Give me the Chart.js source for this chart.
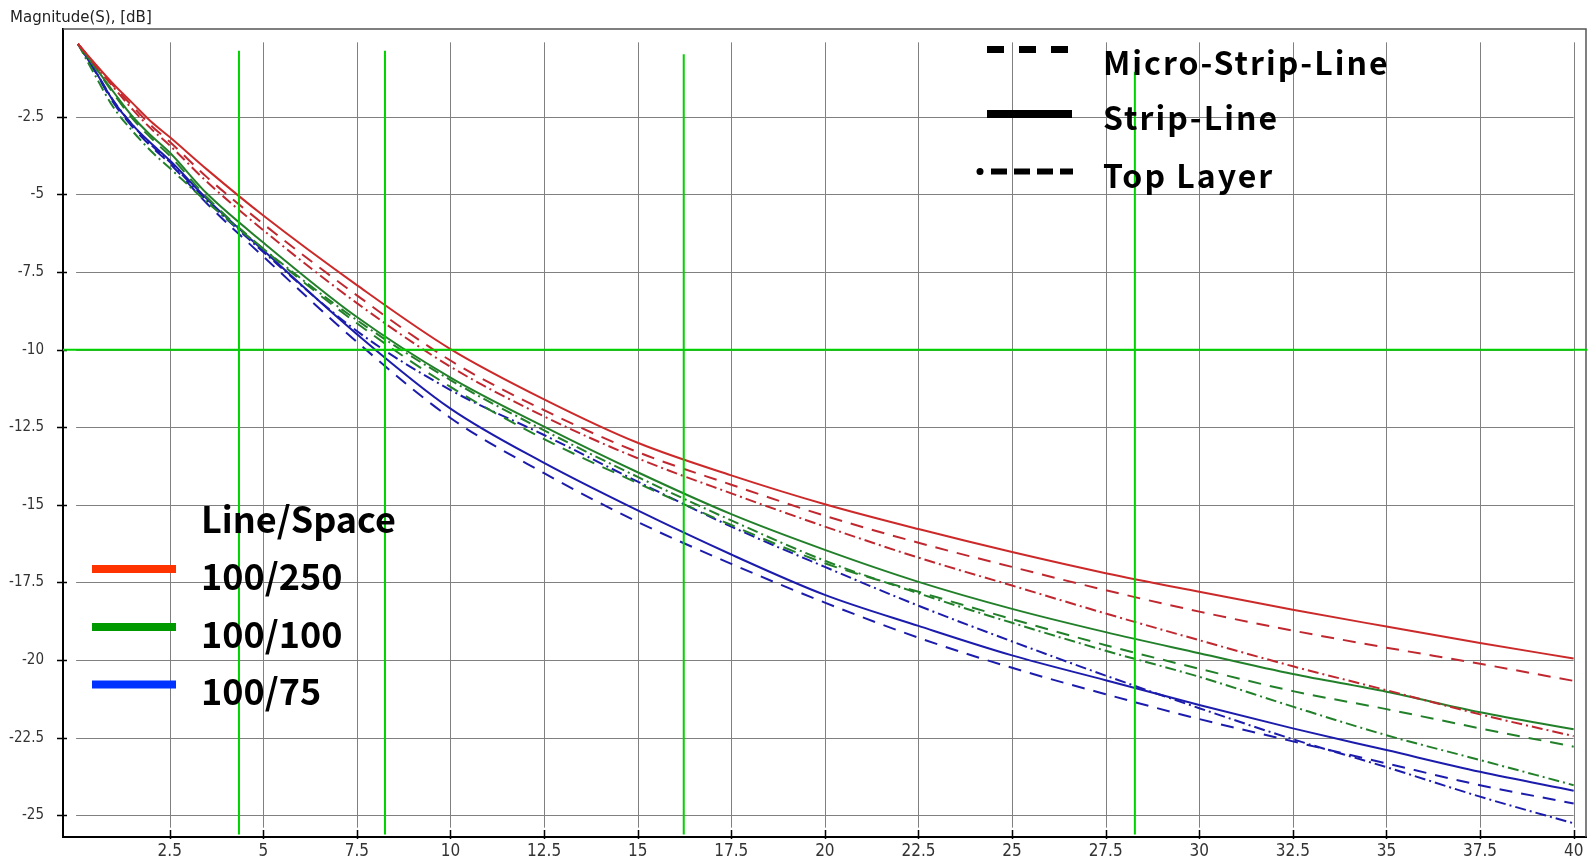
<!DOCTYPE html>
<html>
<head>
<meta charset="utf-8">
<script src="https://cdn.jsdelivr.net/npm/chart.js@4/dist/chart.umd.min.js"></script>
<style>
    html, body { margin: 0; padding: 0; background: #fff; }
    canvas { display: block; }
</style>
</head>
<body>
<canvas id="chartHolder" width="1588" height="868"></canvas>
<script>
const chartHolder = document.getElementById("chartHolder");

// frequency points (GHz)
const freqs = [0.05, 0.5, 1, 1.5, 2, 2.5, 3.5, 5, 7.5, 10, 12.5, 15, 17.5, 20, 22.5, 25, 27.5, 30, 32.5, 35, 37.5, 40];

// Magnitude(S) [dB]
const red_strip   = [-0.15, -0.78, -1.45, -2.05, -2.65, -3.15, -4.2, -5.68, -7.92, -9.98, -11.6, -13.0, -14.05, -14.98, -15.78, -16.52, -17.2, -17.8, -18.38, -18.92, -19.45, -19.95];
const red_micro   = [-0.15, -0.8, -1.5, -2.15, -2.78, -3.3, -4.45, -5.95, -8.25, -10.35, -11.95, -13.3, -14.35, -15.35, -16.22, -17.0, -17.75, -18.44, -19.05, -19.6, -20.12, -20.67];
const red_top     = [-0.15, -0.82, -1.55, -2.25, -2.88, -3.42, -4.6, -6.15, -8.5, -10.55, -12.15, -13.5, -14.63, -15.7, -16.7, -17.6, -18.5, -19.36, -20.2, -20.97, -21.75, -22.45];
const green_strip = [-0.15, -0.88, -1.7, -2.48, -3.1, -3.65, -4.98, -6.55, -8.95, -10.9, -12.48, -13.95, -15.3, -16.45, -17.48, -18.35, -19.1, -19.78, -20.45, -21.02, -21.68, -22.23];
const green_micro = [-0.15, -0.9, -1.75, -2.55, -3.18, -3.75, -5.1, -6.75, -9.15, -11.2, -12.88, -14.3, -15.65, -16.88, -17.8, -18.68, -19.52, -20.28, -21.0, -21.58, -22.2, -22.79];
const green_top   = [-0.15, -1.15, -2.2, -2.95, -3.6, -4.15, -5.25, -6.75, -9.05, -10.98, -12.6, -14.1, -15.5, -16.8, -17.85, -18.8, -19.7, -20.54, -21.5, -22.42, -23.22, -24.03];
const blue_strip  = [-0.15, -1.0, -2.0, -2.75, -3.35, -3.9, -5.15, -6.8, -9.5, -11.9, -13.65, -15.18, -16.6, -17.9, -18.9, -19.85, -20.65, -21.45, -22.2, -22.9, -23.6, -24.21];
const blue_micro  = [-0.15, -1.02, -2.05, -2.82, -3.45, -4.0, -5.3, -7.0, -9.75, -12.2, -13.98, -15.55, -16.9, -18.15, -19.28, -20.25, -21.1, -21.9, -22.62, -23.33, -24.03, -24.62];
const blue_top    = [-0.15, -1.0, -1.98, -2.75, -3.4, -3.95, -5.2, -6.85, -9.4, -11.3, -12.75, -14.25, -15.7, -17.0, -18.25, -19.4, -20.5, -21.55, -22.55, -23.45, -24.4, -25.26];

const xTicks = [2.5, 5, 7.5, 10, 12.5, 15, 17.5, 20, 22.5, 25, 27.5, 30, 32.5, 35, 37.5, 40];
const yTicks = [-2.5, -5, -7.5, -10, -12.5, -15, -17.5, -20, -22.5, -25];

// green marker lines
const markerX = [4.35, 8.25, 16.23, 28.28];
const markerTop = [-0.37, -0.37, -0.48, -1.05];
const markerBottom = -25.62;
const markerY = -10;

const lineStyles = ["Micro-Strip-Line", "Strip-Line", "Top Layer"];
const lineSpaces = ["100/250", "100/100", "100/75"];
const legendTitle = "Line/Space";
const axisTitle = "Magnitude(S), [dB]";

const tickFont = "'DejaVu Sans Condensed', 'Liberation Sans Narrow', 'DejaVu Sans', sans-serif";
const legendFont = "'Noto Sans CJK JP', 'Noto Sans', sans-serif";

function makeSeries(values)
{
    return values.map((v, i) => ({x: freqs[i], y: v}));
}

function lineDataset(label, values, color, dash)
{
    return {
        label: label,
        data: makeSeries(values),
        borderColor: color,
        borderWidth: 2,
        borderDash: dash,
        pointRadius: 0,
        fill: false,
        cubicInterpolationMode: "monotone"
    };
}

function createDatasets()
{
    let datasets = [];

    // markers go first so they are painted on top
    for (let i = 0; i < markerX.length; i++)
    {
        datasets.push({
            label: "marker" + i,
            data: [{x: markerX[i], y: markerTop[i]}, {x: markerX[i], y: markerBottom}],
            borderColor: "#00d200",
            borderWidth: 2,
            pointRadius: 0
        });
    }
    datasets.push({
        label: "marker -10",
        data: [{x: -0.35, y: markerY}, {x: 40.37, y: markerY}],
        borderColor: "#00d200",
        borderWidth: 2,
        pointRadius: 0,
        clip: false
    });

    const micro = [13, 9];
    const top = [11, 4, 2, 4];

    datasets.push(lineDataset(lineSpaces[0] + " " + lineStyles[1], red_strip, "#cc2a2a", []));
    datasets.push(lineDataset(lineSpaces[0] + " " + lineStyles[0], red_micro, "#c02830", micro));
    datasets.push(lineDataset(lineSpaces[0] + " " + lineStyles[2], red_top, "#c02830", top));
    datasets.push(lineDataset(lineSpaces[1] + " " + lineStyles[1], green_strip, "#23802a", []));
    datasets.push(lineDataset(lineSpaces[1] + " " + lineStyles[0], green_micro, "#23802a", micro));
    datasets.push(lineDataset(lineSpaces[1] + " " + lineStyles[2], green_top, "#23802a", top));
    datasets.push(lineDataset(lineSpaces[2] + " " + lineStyles[1], blue_strip, "#1c1cac", []));
    datasets.push(lineDataset(lineSpaces[2] + " " + lineStyles[0], blue_micro, "#1c1cac", micro));
    datasets.push(lineDataset(lineSpaces[2] + " " + lineStyles[2], blue_top, "#1c1cac", top));

    return datasets;
}

const decorations = {
    id: "decorations",
    beforeDatasetsDraw(chart)
    {
        const ctx = chart.ctx;
        const xs = chart.scales.x;
        const ys = chart.scales.y;
        const area = chart.chartArea;

        ctx.save();
        // grid, only over the data range
        ctx.strokeStyle = "#808080";
        ctx.lineWidth = 1;
        ctx.beginPath();
        xTicks.forEach(v =>
        {
            const px = Math.round(xs.getPixelForValue(v)) + 0.5;
            ctx.moveTo(px, ys.getPixelForValue(-0.1));
            ctx.lineTo(px, ys.getPixelForValue(-25.4));
        });
        yTicks.forEach(v =>
        {
            const py = Math.round(ys.getPixelForValue(v)) + 0.5;
            ctx.moveTo(xs.getPixelForValue(0), py);
            ctx.lineTo(xs.getPixelForValue(40), py);
        });
        ctx.stroke();

        // top and right frame
        ctx.strokeStyle = "#555";
        ctx.lineWidth = 1.5;
        ctx.beginPath();
        ctx.moveTo(area.left, area.top);
        ctx.lineTo(area.right, area.top);
        ctx.lineTo(area.right, area.bottom);
        ctx.stroke();

        // tick marks crossing the axes
        ctx.strokeStyle = "#000";
        ctx.lineWidth = 1.5;
        ctx.beginPath();
        xTicks.forEach(v =>
        {
            const px = Math.round(xs.getPixelForValue(v)) + 0.5;
            ctx.moveTo(px, area.bottom - 7);
            ctx.lineTo(px, area.bottom + 2);
        });
        yTicks.forEach(v =>
        {
            const py = Math.round(ys.getPixelForValue(v)) + 0.5;
            ctx.moveTo(area.left - 6, py);
            ctx.lineTo(area.left + 4, py);
        });
        ctx.stroke();
        ctx.restore();
    },
    afterDraw(chart)
    {
        const ctx = chart.ctx;
        ctx.save();

        ctx.fillStyle = "#222";
        ctx.font = "15px 'DejaVu Sans', sans-serif";
        ctx.textBaseline = "alphabetic";
        ctx.fillText(axisTitle, 10, 22);

        // line style legend (top right)
        ctx.strokeStyle = "#000";
        ctx.fillStyle = "#000";
        ctx.lineCap = "butt";

        ctx.lineWidth = 7;
        ctx.setLineDash([17, 15]);
        ctx.beginPath();
        ctx.moveTo(987, 49.5);
        ctx.lineTo(1069, 49.5);
        ctx.stroke();

        ctx.lineWidth = 8;
        ctx.setLineDash([]);
        ctx.beginPath();
        ctx.moveTo(987, 114);
        ctx.lineTo(1072, 114);
        ctx.stroke();

        ctx.beginPath();
        ctx.arc(980, 171.5, 3.5, 0, Math.PI * 2);
        ctx.fill();
        ctx.lineWidth = 6;
        ctx.setLineDash([16, 7]);
        ctx.beginPath();
        ctx.moveTo(991, 171.5);
        ctx.lineTo(1073, 171.5);
        ctx.stroke();
        ctx.setLineDash([]);

        ctx.font = "bold 32px " + legendFont;
        ctx.letterSpacing = "2px";
        const styleBase = [75, 130, 188];
        lineStyles.forEach((t, i) => ctx.fillText(t, 1103, styleBase[i]));
        ctx.letterSpacing = "0px";

        // line/space legend (bottom left)
        ctx.font = "bold 36px " + legendFont;
        ctx.fillText(legendTitle, 201, 533);
        const swatch = ["#ff3300", "#009900", "#0033ff"];
        const swatchY = [569, 627, 684.5];
        const textBase = [590, 648, 705];
        ctx.lineWidth = 8;
        lineSpaces.forEach((t, i) =>
        {
            ctx.strokeStyle = swatch[i];
            ctx.beginPath();
            ctx.moveTo(92, swatchY[i]);
            ctx.lineTo(176, swatchY[i]);
            ctx.stroke();
            ctx.fillText(t, 201, textBase[i]);
        });

        ctx.restore();
    }
};

createChart();

function createChart()
{
    new Chart(chartHolder, {
        type: "line",
        data: {
            datasets: createDatasets()
        },
        plugins: [decorations],
        options: {
            responsive: false,
            animation: false,
            events: [],
            layout: {
                padding: {top: 29, right: 2, left: 0, bottom: 0}
            },
            plugins: {
                legend: {display: false},
                title: {display: false},
                tooltip: {enabled: false}
            },
            scales: {
                x: {
                    type: "linear",
                    min: -0.35,
                    max: 40.33,
                    afterBuildTicks: scale => { scale.ticks = xTicks.map(v => ({value: v})); },
                    afterFit: scale => { scale.height = 31; },
                    grid: {display: false, drawTicks: false},
                    border: {display: true, color: "#000", width: 2},
                    ticks: {
                        autoSkip: false,
                        maxRotation: 0,
                        padding: 4,
                        color: "#333",
                        font: {family: tickFont, size: 17},
                        callback: v => String(v)
                    }
                },
                y: {
                    type: "linear",
                    min: -25.7,
                    max: 0.33,
                    afterBuildTicks: scale => { scale.ticks = yTicks.map(v => ({value: v})); },
                    afterFit: scale => { scale.width = 63; },
                    grid: {display: false, drawTicks: false},
                    border: {display: true, color: "#000", width: 2},
                    ticks: {
                        autoSkip: false,
                        padding: 19,
                        color: "#333",
                        font: {family: tickFont, size: 15},
                        callback: v => String(v)
                    }
                }
            }
        }
    });
}
</script>
</body>
</html>
